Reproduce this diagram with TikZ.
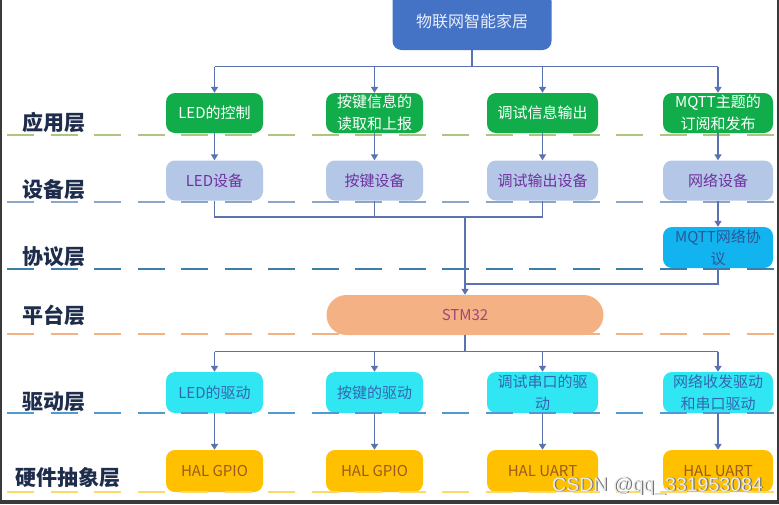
\documentclass[tikz,border=0pt]{standalone}
\usepackage{fontspec}
\setmainfont{Noto Sans CJK SC}
\newfontfamily\wmfont{Liberation Sans}
\usetikzlibrary{arrows.meta}
\definecolor{topblue}{HTML}{4472C4}
\definecolor{appgreen}{HTML}{12AD4B}
\definecolor{devfill}{HTML}{B4C7E7}
\definecolor{devtext}{HTML}{7030A0}
\definecolor{mqttfill}{HTML}{12B4F0}
\definecolor{mqtttext}{HTML}{2F5597}
\definecolor{stmfill}{HTML}{F4B183}
\definecolor{stmtext}{HTML}{A0467A}
\definecolor{drvfill}{HTML}{30E6F2}
\definecolor{drvtext}{HTML}{3466B0}
\definecolor{halfill}{HTML}{FFC000}
\definecolor{haltext}{HTML}{9B5B20}
\definecolor{connc}{HTML}{5A72B0}
\definecolor{labtext}{HTML}{1F2D4D}
\definecolor{lapp}{HTML}{AFC47F}
\definecolor{ldev}{HTML}{8EA6C6}
\definecolor{lpro}{HTML}{3C7FA8}
\definecolor{lplat}{HTML}{F4B183}
\definecolor{ldrv}{HTML}{4F9AD0}
\definecolor{lhal}{HTML}{FFD966}
\definecolor{frame}{HTML}{3A3A3A}
\tikzset{
  box/.style={rounded corners=9pt, minimum height=40pt, inner sep=0pt, align=center,
    font=\fontsize{15}{22}\selectfont},
  appbox/.style={box, fill=appgreen, text=white},
  devbox/.style={box, fill=devfill, text=devtext},
  drvbox/.style={box, fill=drvfill, text=drvtext, minimum height=41pt},
  halbox/.style={box, fill=halfill, text=haltext, minimum height=42pt},
  laylabel/.style={anchor=west, inner sep=0pt, text=labtext, font=\fontsize{21}{24}\selectfont\bfseries},
  conn/.style={draw=connc, line width=1.5pt},
  arr/.style={conn, -{Triangle[width=7pt,length=6pt]}},
  dl/.style={line width=2pt, dash pattern=on 27pt off 16.5pt}
}
\begin{document}
\begin{tikzpicture}[x=1pt,y=-1pt]
\useasboundingbox (0,0) rectangle (779,504);
\fill[white] (0,0) rectangle (779,504);

% top node
\node[box, fill=topblue, text=white!88!topblue, minimum width=159pt, minimum height=58pt,
  font=\fontsize{16}{20}\selectfont] (top) at (472,21) {物联网智能家居};

% application layer
\node[appbox, minimum width=97pt] (a1) at (214.5,113) {LED的控制};
\node[appbox, minimum width=97pt] (a2) at (374.5,113) {按键信息的\\读取和上报};
\node[appbox, minimum width=111pt] (a3) at (542.5,113) {调试信息输出};
\node[appbox, minimum width=110pt] (a4) at (718,113) {MQTT主题的\\订阅和发布};

% device layer
\node[devbox, minimum width=97pt] (d1) at (214.5,180.5) {LED设备};
\node[devbox, minimum width=97pt] (d2) at (374.5,180.5) {按键设备};
\node[devbox, minimum width=111pt] (d3) at (542.5,180.5) {调试输出设备};
\node[devbox, minimum width=110pt] (d4) at (718,180.5) {网络设备};

% protocol
\node[box, fill=mqttfill, text=mqtttext, minimum width=110pt, minimum height=41pt] (mq) at (718,247.5) {MQTT网络协\\议};

% platform
\node[box, fill=stmfill, text=stmtext, minimum width=277pt, minimum height=40pt, rounded corners=20pt] (stm) at (465,315) {STM32};

% drivers
\node[drvbox, minimum width=97pt] (v1) at (214.5,392.5) {LED的驱动};
\node[drvbox, minimum width=97pt] (v2) at (374.5,392.5) {按键的驱动};
\node[drvbox, minimum width=111pt] (v3) at (542.5,392.5) {调试串口的驱\\动};
\node[drvbox, minimum width=110pt] (v4) at (718,392.5) {网络收发驱动\\和串口驱动};

% HAL
\node[halbox, minimum width=97pt] (h1) at (214.5,471) {HAL GPIO};
\node[halbox, minimum width=97pt] (h2) at (374.5,471) {HAL GPIO};
\node[halbox, minimum width=111pt] (h3) at (542.5,471) {HAL UART};
\node[halbox, minimum width=110pt] (h4) at (718,471) {HAL UART};

% layer labels
\node[laylabel] (l1) at (22,122) {应用层};
\node[laylabel] (l2) at (22,190) {设备层};
\node[laylabel] (l3) at (22,257) {协议层};
\node[laylabel] (l4) at (22,315) {平台层};
\node[laylabel] (l5) at (22,402) {驱动层};
\node[laylabel] (l6) at (15,478) {硬件抽象层};

% dashed layer lines
\draw[dl, lapp] (7,135) -- (775,135);
\draw[dl, ldev] (7,202) -- (775,202);
\draw[dl, lpro] (7,269) -- (775,269);
\draw[dl, lplat] (7,334) -- (775,334);
\draw[dl, ldrv] (7,413) -- (775,413);
\draw[dl, lhal] (7,492) -- (775,492);

% connectors: top -> application
\coordinate (tb) at (472,66.5);
\draw[conn] (top.south) -- (tb);
\draw[conn] (tb -| a1.north) -- (tb -| a4.north);
\foreach \n in {a1,a2,a3,a4} \draw[arr] (tb -| \n.north) -- (\n.north);

% application -> device
\draw[arr] (a1.south) -- (d1.north);
\draw[arr] (a2.south) -- (d2.north);
\draw[arr] (a3.south) -- (d3.north);
\draw[arr] (a4.south) -- (d4.north);

% device -> platform
\coordinate (db) at (0,217);
\draw[conn] (d1.south) -- (d1.south |- db) -- (d3.south |- db) -- (d3.south);
\draw[conn] (d2.south) -- (d2.south |- db);
\draw[arr] (stm.north |- db) -- (stm.north);
\draw[arr] (d4.south) -- (mq.north);
\coordinate (pb) at (0,284);
\draw[conn] (mq.south) -- (mq.south |- pb) -- (stm.north |- pb);

% platform -> drivers
\coordinate (vb) at (0,351.5);
\draw[conn] (stm.south) -- (stm.south |- vb);
\draw[conn] (v1.north |- vb) -- (v4.north |- vb);
\foreach \n in {v1,v2,v3,v4} \draw[arr] (\n.north |- vb) -- (\n.north);

% drivers -> HAL
\draw[arr] (v1.south) -- (h1.north);
\draw[arr] (v2.south) -- (h2.north);
\draw[arr] (v3.south) -- (h3.north);
\draw[arr] (v4.south) -- (h4.north);

% watermark
\node[anchor=base west, inner sep=0pt, text=black!55, font=\wmfont\fontsize{19.5}{22}\selectfont] at (553.2,491.8) {CSDN @qq\_331953084};
\node[anchor=base west, inner sep=0pt, text=white!92!black, font=\wmfont\fontsize{19.5}{22}\selectfont] (wm) at (552,491) {CSDN @qq\_331953084};

% frame
\fill[frame] (0,500) rectangle (779,504);
\fill[frame] (0,0) rectangle (2,504);
\fill[frame] (777,0) rectangle (779,504);
\end{tikzpicture}
\end{document}
